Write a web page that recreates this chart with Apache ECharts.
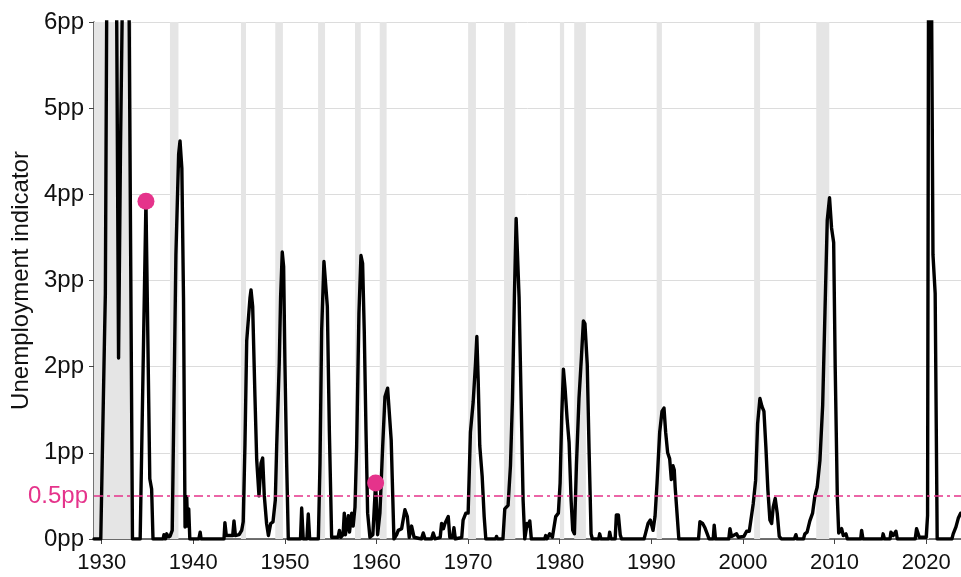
<!DOCTYPE html>
<html>
<head>
<meta charset="utf-8">
<script src="https://cdn.jsdelivr.net/npm/echarts@6/dist/echarts.min.js"></script>
<style>
  html, body { margin: 0; padding: 0; background: #fff; }
  #chart { width: 961px; height: 577px; }
</style>
</head>
<body>
<div id="chart"></div>
<script>
// unemployment indicator (year as decimal, value in pp)
const years = [
  1929.16, 1929.9, 1930.0, 1930.3, 1930.4, 1930.55, 1930.8, 1931.2, 1931.5, 1931.64,
  1931.84, 1932.05, 1932.25, 1932.6, 1932.9, 1933.0, 1933.36, 1934.2, 1934.83, 1935.25,
  1935.45, 1935.6, 1936.7, 1936.8, 1936.95, 1937.1, 1937.2, 1937.45, 1937.7, 1938.1,
  1938.4, 1938.55, 1938.75, 1938.93, 1939.1, 1939.28, 1939.38, 1939.5, 1939.62, 1940.6,
  1940.75, 1940.85, 1943.35, 1943.45, 1943.6, 1944.3, 1944.44, 1944.6, 1945.0, 1945.28,
  1945.45, 1945.64, 1945.83, 1946.19, 1946.3, 1946.48, 1946.73, 1946.92, 1947.17, 1947.39,
  1947.57, 1947.75, 1948.0, 1948.2, 1948.45, 1948.7, 1948.95, 1949.1, 1949.38, 1949.53,
  1949.71, 1949.86, 1950.0, 1950.19, 1950.37, 1951.7, 1951.83, 1952.0, 1952.4, 1952.55,
  1952.7, 1953.65, 1953.83, 1954.01, 1954.26, 1954.45, 1954.63, 1954.85, 1955.1, 1955.8,
  1955.95, 1956.1, 1956.35, 1956.48, 1956.6, 1956.92, 1957.05, 1957.29, 1957.45, 1957.65,
  1957.83, 1958.08, 1958.3, 1958.48, 1958.66, 1958.85, 1959.03, 1959.28, 1959.6, 1959.9,
  1960.12, 1960.37, 1960.67, 1960.92, 1961.21, 1961.42, 1961.6, 1961.9, 1962.2, 1962.37,
  1962.74, 1963.1, 1963.36, 1963.57, 1963.83, 1964.1, 1964.9, 1965.1, 1965.3, 1966.0,
  1966.19, 1966.4, 1966.95, 1967.1, 1967.3, 1967.47, 1967.83, 1968.0, 1968.3, 1968.45,
  1968.6, 1969.3, 1969.45, 1969.75, 1970.0, 1970.25, 1970.55, 1970.8, 1970.95, 1971.1,
  1971.27, 1971.53, 1971.75, 1971.93, 1973.0, 1973.1, 1973.2, 1973.8, 1974.0, 1974.36,
  1974.62, 1974.84, 1975.05, 1975.24, 1975.38, 1975.56, 1975.78, 1976.0, 1976.18, 1976.44,
  1976.6, 1976.73, 1976.9, 1978.35, 1978.47, 1978.6, 1978.9, 1979.2, 1979.56, 1979.85,
  1980.04, 1980.22, 1980.4, 1980.58, 1980.8, 1981.02, 1981.24, 1981.42, 1981.6, 1981.82,
  1982.1, 1982.36, 1982.58, 1982.75, 1983.0, 1983.2, 1983.42, 1983.56, 1984.25, 1984.36,
  1984.5, 1985.35, 1985.45, 1985.6, 1986.05, 1986.18, 1986.4, 1986.6, 1986.75, 1989.2,
  1989.35, 1989.64, 1989.89, 1990.18, 1990.4, 1990.62, 1990.91, 1991.16, 1991.38, 1991.56,
  1991.78, 1992.0, 1992.18, 1992.36, 1992.5, 1992.6, 1992.8, 1993.0, 1995.15, 1995.3,
  1995.6, 1995.85, 1996.1, 1996.3, 1996.75, 1996.86, 1997.0, 1998.45, 1998.58, 1998.75,
  1999.3, 1999.5, 2000.1, 2000.4, 2000.69, 2000.84, 2001.12, 2001.38, 2001.6, 2001.85,
  2002.07, 2002.29, 2002.5, 2002.72, 2002.94, 2003.13, 2003.3, 2003.52, 2003.74, 2003.96,
  2004.2, 2005.6, 2005.78, 2005.9, 2006.6, 2006.76, 2007.0, 2007.3, 2007.6, 2007.85,
  2008.1, 2008.4, 2008.7, 2008.95, 2009.2, 2009.45, 2009.67, 2009.9, 2010.07, 2010.3,
  2010.45, 2010.77, 2010.95, 2011.24, 2011.4, 2012.85, 2012.95, 2013.1, 2015.2, 2015.3,
  2015.45, 2016.05, 2016.15, 2016.4, 2016.7, 2016.85, 2018.8, 2018.95, 2019.25, 2020.0,
  2020.15, 2020.3, 2020.45, 2020.6, 2020.74, 2020.98, 2021.2, 2022.8, 2022.95, 2023.25,
  2023.5, 2023.76
]
const indicator = [
  0, 0, 0, 2.3, 2.85, 6.2, 8.5, 9.0, 7.5, 6.0,
  2.1, 4.5, 6.2, 8.0, 6.8, 6.0, 0, 0, 3.92, 0.7,
  0.58, 0, 0, 0.05, 0, 0.06, 0.03, 0.03, 0.1, 3.3,
  4.47, 4.62, 4.3, 2.8, 0.14, 0.49, 0.15, 0.35, 0, 0,
  0.08, 0, 0, 0.19, 0.04, 0.04, 0.21, 0.04, 0.05, 0.1,
  0.2, 1.1, 2.3, 2.8, 2.89, 2.7, 1.65, 0.92, 0.5, 0.88,
  0.94, 0.5, 0.18, 0.04, 0.18, 0.2, 0.45, 1.07, 2.04, 2.81,
  3.33, 3.16, 2.04, 0.88, 0, 0, 0.36, 0, 0, 0.29,
  0, 0, 0.88, 2.42, 3.22, 3.24, 2.7, 1.26, 0.02, 0.02,
  0.1, 0.02, 0.05, 0.3, 0.05, 0.27, 0.08, 0.3, 0.15, 0.37,
  1.07, 2.62, 3.29, 3.2, 2.42, 1.26, 0.3, 0.02, 0.05, 0.65,
  0.05, 0.3, 1.07, 1.65, 1.75, 1.74, 1.15, 0, 0.05, 0.1,
  0.12, 0.34, 0.26, 0.02, 0.15, 0.02, 0, 0.07, 0, 0,
  0.07, 0, 0.02, 0.18, 0.12, 0.18, 0.26, 0.02, 0.02, 0.13,
  0, 0.02, 0.22, 0.3, 0.3, 1.24, 1.59, 2.03, 2.35, 1.83,
  1.08, 0.73, 0.26, 0, 0, 0.03, 0, 0, 0.35, 0.39,
  0.85, 1.63, 2.81, 3.72, 3.7, 2.81, 1.63, 0.45, 0, 0.18,
  0.15, 0.21, 0, 0, 0.04, 0, 0.06, 0.02, 0.26, 0.3,
  0.65, 1.44, 1.97, 1.75, 1.4, 1.12, 0.45, 0.1, 0.06, 0.85,
  1.63, 2.1, 2.53, 2.5, 2.03, 1.04, 0.06, 0, 0, 0.06,
  0, 0, 0.08, 0, 0, 0.28, 0.28, 0.05, 0, 0,
  0.06, 0.18, 0.22, 0.1, 0.26, 0.65, 1.24, 1.48, 1.52, 1.24,
  1.0, 0.93, 0.69, 0.85, 0.8, 0.6, 0.3, 0, 0, 0.2,
  0.18, 0.13, 0.06, 0, 0, 0.16, 0, 0, 0.12, 0.03,
  0.06, 0.02, 0.03, 0.09, 0.09, 0.08, 0.41, 0.68, 1.34, 1.63,
  1.54, 1.48, 1.07, 0.57, 0.22, 0.18, 0.37, 0.47, 0.3, 0.03,
  0, 0, 0.05, 0, 0, 0.06, 0.08, 0.21, 0.3, 0.5,
  0.6, 0.91, 1.55, 2.63, 3.7, 3.96, 3.61, 3.44, 1.98, 0.48,
  0.07, 0.12, 0.04, 0.06, 0, 0, 0.1, 0, 0, 0.06,
  0, 0, 0.08, 0.04, 0.09, 0, 0, 0.12, 0.02, 0.02,
  0.27, 9.0, 8.0, 6.0, 3.3, 2.85, 0, 0, 0.06, 0.14,
  0.24, 0.3
]

// recession periods (shaded)
const recessionStart = [1929.16, 1937.45, 1945.2, 1948.95, 1953.62, 1957.65, 1960.35, 1970.0, 1973.92, 1980.02, 1981.58, 1990.58, 2001.22, 2008.0, 2020.1]
const recessionEnd   = [1933.3, 1938.38, 1945.75, 1949.78, 1954.38, 1958.28, 1961.1, 1970.85, 1975.15, 1980.48, 1982.85, 1991.15, 2001.87, 2009.42, 2020.3]

// highlighted points
const markerYears = [1934.83, 1959.9]
const markerValues = [3.92, 0.65]

const threshold = 0.5
const xTicks = [1930, 1940, 1950, 1960, 1970, 1980, 1990, 2000, 2010, 2020]

const pink = '#e5338b'
const font = "'Liberation Sans', Arial, Helvetica, sans-serif"

const chart = echarts.init(document.getElementById('chart'))

const lineData = years.map((y, i) => [y, indicator[i]])
const markerData = markerYears.map((y, i) => [y, markerValues[i]])
const bands = recessionStart.map((s, i) => [{ xAxis: s }, { xAxis: recessionEnd[i] }])

chart.setOption({
  animation: false,
  grid: { left: 94, right: 0, top: 22, bottom: 38 },
  xAxis: {
    type: 'value',
    min: 1929.16,
    max: 2023.8,
    splitLine: { show: false },
    axisLine: { show: true, lineStyle: { color: '#444', width: 1.5 } },
    axisTick: { show: true, customValues: xTicks, length: 5, lineStyle: { color: '#444' } },
    axisLabel: {
      customValues: xTicks,
      formatter: v => String(v),
      color: '#111',
      fontSize: 22,
      fontFamily: font,
      margin: 13
    }
  },
  yAxis: {
    type: 'value',
    min: 0,
    max: 6,
    interval: 1,
    name: 'Unemployment indicator',
    nameLocation: 'middle',
    nameGap: 60,
    nameTextStyle: { color: '#111', fontSize: 24, fontFamily: font },
    axisLine: { show: true, lineStyle: { color: '#444', width: 1.5 } },
    axisTick: { show: true, length: 5, lineStyle: { color: '#444' } },
    splitLine: { show: true, lineStyle: { color: '#dcdcdc', width: 1 } },
    axisLabel: {
      formatter: '{value}pp',
      color: '#111',
      fontSize: 24,
      fontFamily: font,
      margin: 10
    }
  },
  series: [
    {
      // recession shading
      type: 'line',
      data: [],
      z: 1,
      silent: true,
      markArea: {
        silent: true,
        itemStyle: { color: '#e5e5e5' },
        data: bands
      }
    },
    {
      type: 'line',
      data: lineData,
      z: 3,
      symbol: 'none',
      clip: true,
      lineStyle: { color: '#000', width: 3.4, join: 'round', cap: 'round' },
      markLine: {
        silent: true,
        symbol: 'none',
        data: [{ yAxis: threshold }],
        lineStyle: { color: pink, width: 1.5, type: [9, 4, 3, 4] },
        label: {
          position: 'start',
          formatter: '0.5pp',
          color: pink,
          fontSize: 24,
          fontFamily: font,
          distance: 6
        }
      }
    },
    {
      type: 'scatter',
      data: markerData,
      z: 4,
      symbolSize: 17,
      itemStyle: { color: pink, opacity: 1 }
    }
  ]
})
</script>
</body>
</html>
